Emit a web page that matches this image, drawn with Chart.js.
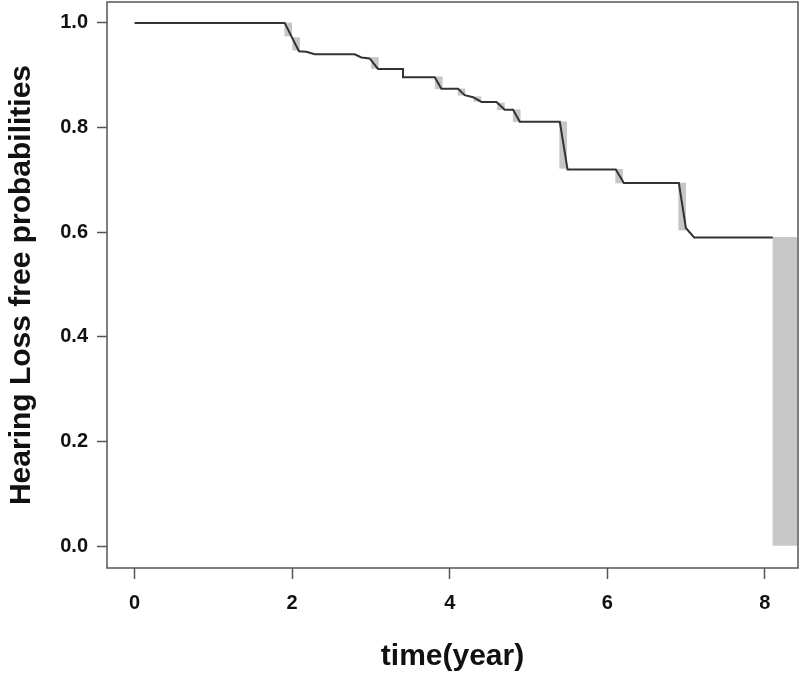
<!DOCTYPE html>
<html>
<head>
<meta charset="utf-8">
<title>Hearing Loss free probabilities</title>
<script src="https://cdn.jsdelivr.net/npm/chart.js@4.4.1/dist/chart.umd.min.js"></script>
<style>
  body { margin: 0; background: #fff; }
  #wrap { width: 800px; height: 677px; }
</style>
</head>
<body>
<div id="wrap"><canvas id="kmChart" width="800" height="677"></canvas></div>
<script>
// === Survival curve (time in years, probability) ===
const times = [0, 1.905, 2.086, 2.18, 2.286, 2.794, 2.879, 2.984, 3.089, 3.407, 3.407, 3.81, 3.894,
  4.105, 4.19, 4.296, 4.402, 4.593, 4.698, 4.804, 4.889, 5.397, 5.495, 6.108, 6.21, 6.908, 6.997, 7.102, 8.10];
const surv = [1.0, 1.0, 0.946, 0.945, 0.940, 0.940, 0.934, 0.932, 0.912, 0.912, 0.896, 0.896, 0.874,
  0.874, 0.862, 0.858, 0.849, 0.849, 0.834, 0.834, 0.811, 0.811, 0.720, 0.720, 0.694, 0.694, 0.608, 0.590, 0.590];

// === Grey drop bars at the events ===
const dropTimes = [1.95, 2.05, 3.05, 3.86, 4.15, 4.35, 4.65, 4.85, 5.44, 6.15, 6.95];
const dropUpper = [1.0, 0.972, 0.934, 0.897, 0.874, 0.859, 0.847, 0.834, 0.811, 0.720, 0.694];
const dropLower = [0.975, 0.948, 0.913, 0.874, 0.862, 0.850, 0.834, 0.811, 0.722, 0.694, 0.604];

// last drop to zero at the end of follow-up
const tailTime = [8.254];
const tailUpper = [0.590];
const tailLower = [0.0];

const xTicks = [0, 2, 4, 6, 8];
const yTicks = [0, 0.2, 0.4, 0.6, 0.8, 1.0];

const boldFont = "'Liberation Sans', Arial, sans-serif";

// box round the plot area
const frameBox = {
  id: "frameBox",
  afterDraw(chart) {
    const { ctx, chartArea: a } = chart;
    ctx.save();
    ctx.strokeStyle = "#555";
    ctx.lineWidth = 1.5;
    ctx.strokeRect(a.left, a.top, a.right - a.left, a.bottom - a.top);
    ctx.restore();
  }
};

// no extra room for overflowing tick labels
function noLabelPadding(s) {
  s.paddingTop = 0;
  s.paddingBottom = 0;
  s.paddingLeft = 0;
  s.paddingRight = 0;
}

new Chart(document.getElementById("kmChart"), {
  type: "bar",
  data: {
    datasets: [
      {
        type: "line",
        data: times.map((t, i) => ({ x: t, y: surv[i] })),
        borderColor: "#333",
        borderWidth: 2,
        pointRadius: 0,
        tension: 0,
        fill: false,
        order: 0
      },
      {
        data: dropTimes.map((t, i) => ({ x: t, y: [dropLower[i], dropUpper[i]] })),
        backgroundColor: "#c6c6c6",
        barThickness: 7,
        grouped: false,
        order: 1
      },
      {
        data: tailTime.map((t, i) => ({ x: t, y: [tailLower[i], tailUpper[i]] })),
        backgroundColor: "#c8c8c8",
        barThickness: 24,
        grouped: false,
        order: 1
      }
    ]
  },
  options: {
    responsive: false,
    animation: false,
    layout: { padding: { top: 2, right: 2, left: 0, bottom: 0 } },
    plugins: { legend: { display: false }, tooltip: { enabled: false } },
    scales: {
      x: {
        type: "linear",
        min: -0.35,
        max: 8.42,
        offset: false,
        afterBuildTicks: s => { s.ticks = xTicks.map(v => ({ value: v })); },
        afterFit: s => { s.height = 109; noLabelPadding(s); },
        grid: { offset: false, drawOnChartArea: false, drawTicks: true, tickLength: 11, tickColor: "#555", tickWidth: 1.5 },
        border: { display: false },
        ticks: { color: "#111", padding: 12, font: { family: boldFont, size: 20, weight: "bold" } },
        title: {
          display: true,
          text: "time(year)",
          color: "#111",
          padding: { top: 0, bottom: 2 },
          font: { family: boldFont, size: 30, weight: "bold" }
        }
      },
      y: {
        type: "linear",
        min: -0.042,
        max: 1.04,
        beginAtZero: false,
        afterBuildTicks: s => { s.ticks = yTicks.map(v => ({ value: v })); },
        afterFit: s => { s.width = 107; noLabelPadding(s); },
        grid: { drawOnChartArea: false, drawTicks: true, tickLength: 10, tickColor: "#555", tickWidth: 1.5 },
        border: { display: false },
        ticks: {
          color: "#111",
          padding: 9,
          font: { family: boldFont, size: 20, weight: "bold" },
          callback: v => Number(v).toFixed(1)
        },
        title: {
          display: true,
          text: "Hearing Loss free probabilities",
          color: "#111",
          padding: { top: 4, bottom: 0 },
          font: { family: boldFont, size: 30, weight: "bold" }
        }
      }
    }
  },
  plugins: [frameBox]
});
</script>
</body>
</html>
